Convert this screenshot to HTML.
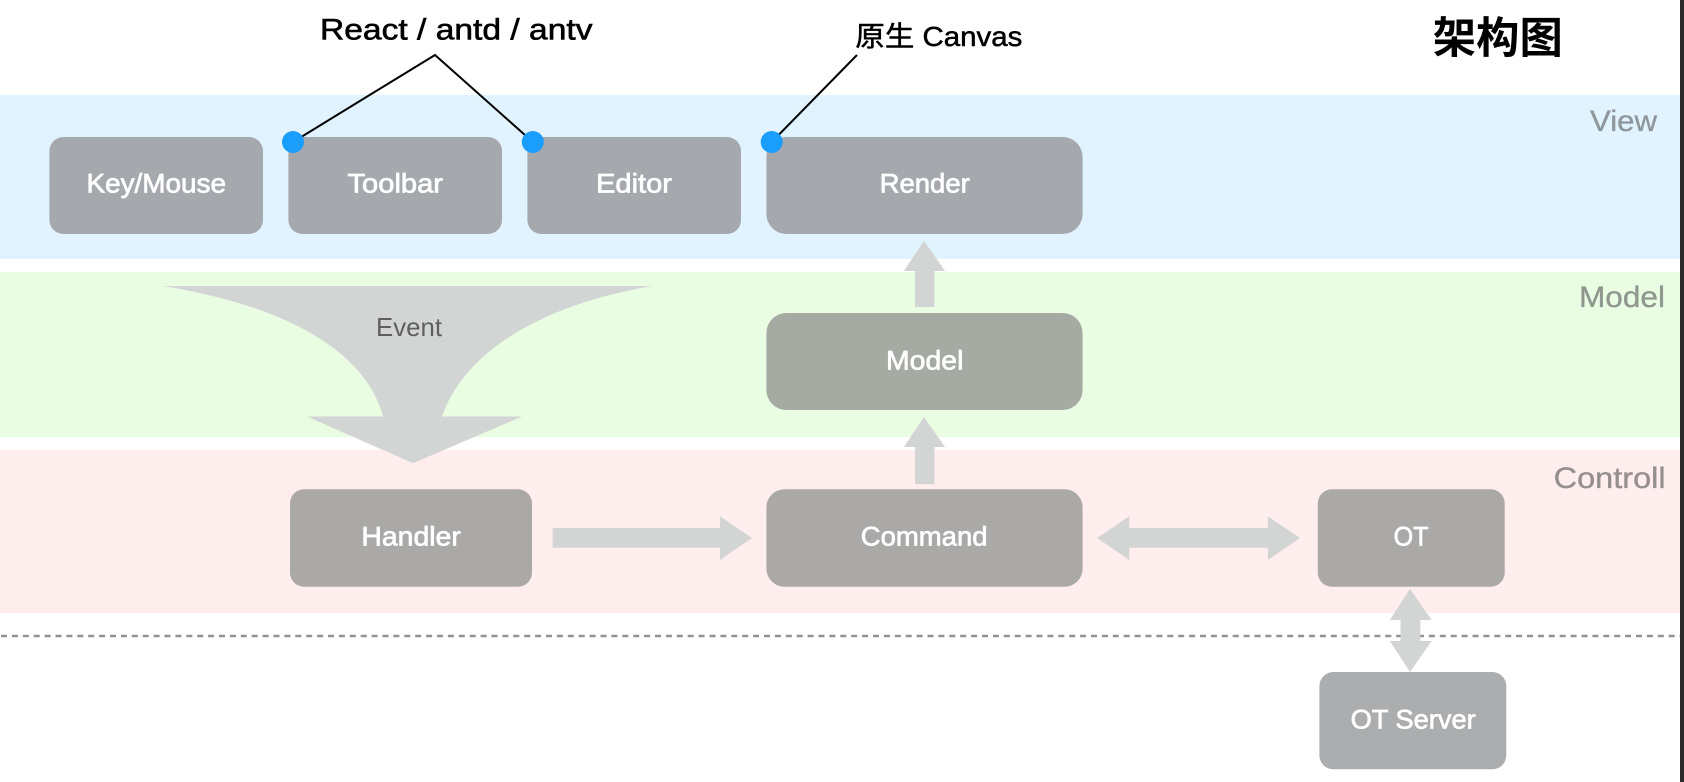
<!DOCTYPE html>
<html lang="zh">
<head>
<meta charset="utf-8">
<title>架构图</title>
<style>
html,body{margin:0;padding:0;background:#fff;width:1684px;height:782px;overflow:hidden}
svg{display:block;position:absolute;left:0;top:0}
text{font-family:"Liberation Sans","Noto Sans CJK SC",sans-serif}
.b{fill:#fff;stroke:#fff;stroke-width:.7;font-size:27px;text-anchor:start}
.l{font-size:30px;stroke-width:.35}
.a{fill:#d3d5d5}
</style>
</head>
<body>
<svg width="1684" height="782" viewBox="0 0 1684 782" xmlns="http://www.w3.org/2000/svg">
  <rect width="1684" height="782" fill="#fff"/>
  <!-- bands -->
  <rect x="0" y="95" width="1684" height="164" fill="#e0f3fe"/>
  <rect x="0" y="272" width="1684" height="165" fill="#e9fde3"/>
  <rect x="0" y="450" width="1684" height="163" fill="#ffeeed"/>
  <!-- dashed separator -->
  <line x1="1" y1="636" x2="1680" y2="636" stroke="#929292" stroke-width="2.6" stroke-dasharray="6 4.9"/>

  <!-- Event arrow -->
  <path class="a" d="M163,286 L652,286 C545,304 465,350 442,416.5 L522,416.5 L413,463.3 L307,416.5 L383,416.5 C365,350 285,306 163,286 Z"/>
  <text x="376" y="336" font-size="26" fill="#5f5f5f" textLength="66" lengthAdjust="spacingAndGlyphs">Event</text>

  <!-- straight arrows -->
  <polygon class="a" points="924,240.7 945,271 934.4,271 934.4,307 915,307 915,271 903.8,271"/>
  <polygon class="a" points="924,417 945,447 934.4,447 934.4,484.3 915,484.3 915,447 903.8,447"/>
  <polygon class="a" points="552.6,528 720,528 720,516.3 752,538 720,560 720,547.7 552.6,547.7"/>
  <polygon class="a" points="1097,538 1129.3,516.3 1129.3,528 1267.9,528 1267.9,516.3 1300,538 1267.9,560 1267.9,547.7 1129.3,547.7 1129.3,560"/>
  <polygon class="a" points="1410,588.7 1431.7,620 1420.4,620 1420.4,641 1431.7,641 1410,672 1389.8,641 1400.5,641 1400.5,620 1389.8,620"/>

  <!-- boxes -->
  <rect x="49.4" y="137" width="213.6" height="97" rx="14" fill="#a5a9ad"/>
  <rect x="288.4" y="137" width="213.6" height="97" rx="14" fill="#a5a9ad"/>
  <rect x="527.4" y="137" width="213.6" height="97" rx="14" fill="#a5a9ad"/>
  <rect x="766.4" y="137" width="316.2" height="97" rx="20" fill="#a5a9ad"/>
  <rect x="766.4" y="313" width="316.2" height="97" rx="20" fill="#a5aba3"/>
  <rect x="290" y="489.3" width="242" height="97.4" rx="14" fill="#aba8a8"/>
  <rect x="766.4" y="489.3" width="316.2" height="97.4" rx="18" fill="#aba8a8"/>
  <rect x="1317.8" y="489.3" width="186.9" height="97.4" rx="14" fill="#aba8a8"/>
  <rect x="1319.4" y="672" width="186.9" height="97.3" rx="14" fill="#acadae"/>

  <!-- box labels -->
  <text class="b" x="86.5" y="192.7" textLength="139.5" lengthAdjust="spacingAndGlyphs">Key/Mouse</text>
  <text class="b" x="347.5" y="192.7" textLength="95.5" lengthAdjust="spacingAndGlyphs">Toolbar</text>
  <text class="b" x="596" y="192.7" textLength="76" lengthAdjust="spacingAndGlyphs">Editor</text>
  <text class="b" x="879.6" y="192.7" textLength="90.2" lengthAdjust="spacingAndGlyphs">Render</text>
  <text class="b" x="886" y="369.3" textLength="77.4" lengthAdjust="spacingAndGlyphs">Model</text>
  <text class="b" x="361.4" y="545.7" textLength="99.4" lengthAdjust="spacingAndGlyphs">Handler</text>
  <text class="b" x="860.8" y="545.7" textLength="126.7" lengthAdjust="spacingAndGlyphs">Command</text>
  <text class="b" x="1393.6" y="545.7" textLength="34.9" lengthAdjust="spacingAndGlyphs">OT</text>
  <text class="b" x="1350.6" y="728.7" textLength="125.1" lengthAdjust="spacingAndGlyphs">OT Server</text>

  <!-- connector lines and dots -->
  <polyline points="293,142 435,55 532.8,142" fill="none" stroke="#000" stroke-width="2"/>
  <line x1="771.7" y1="142" x2="857" y2="55" stroke="#000" stroke-width="2"/>
  <circle cx="293" cy="142" r="11" fill="#1a9dfb"/>
  <circle cx="532.8" cy="142" r="11" fill="#1a9dfb"/>
  <circle cx="771.7" cy="142" r="11" fill="#1a9dfb"/>

  <!-- annotations -->
  <text x="320" y="39.3" font-size="30" fill="#000" stroke="#000" stroke-width=".6" textLength="272.5" lengthAdjust="spacingAndGlyphs">React / antd / antv</text>
  <text x="855.4" y="46" font-size="28" fill="#000" stroke="#000" stroke-width=".5" textLength="167" lengthAdjust="spacingAndGlyphs">原生 Canvas</text>
  <text x="1432.8" y="53" font-size="43" font-weight="700" fill="#000" textLength="130" lengthAdjust="spacingAndGlyphs">架构图</text>

  <!-- layer labels -->
  <text class="l" x="1590" y="131" fill="#8f979c" stroke="#8f979c" textLength="67" lengthAdjust="spacingAndGlyphs">View</text>
  <text class="l" x="1579" y="307" fill="#8f978f" stroke="#8f978f" textLength="86" lengthAdjust="spacingAndGlyphs">Model</text>
  <text class="l" x="1553.6" y="488" fill="#968f8f" stroke="#968f8f" textLength="112" lengthAdjust="spacingAndGlyphs">Controll</text>

  <!-- right window edge -->
  <rect x="1680" y="0" width="4" height="782" fill="#2b2b2b"/>
</svg>
</body>
</html>
